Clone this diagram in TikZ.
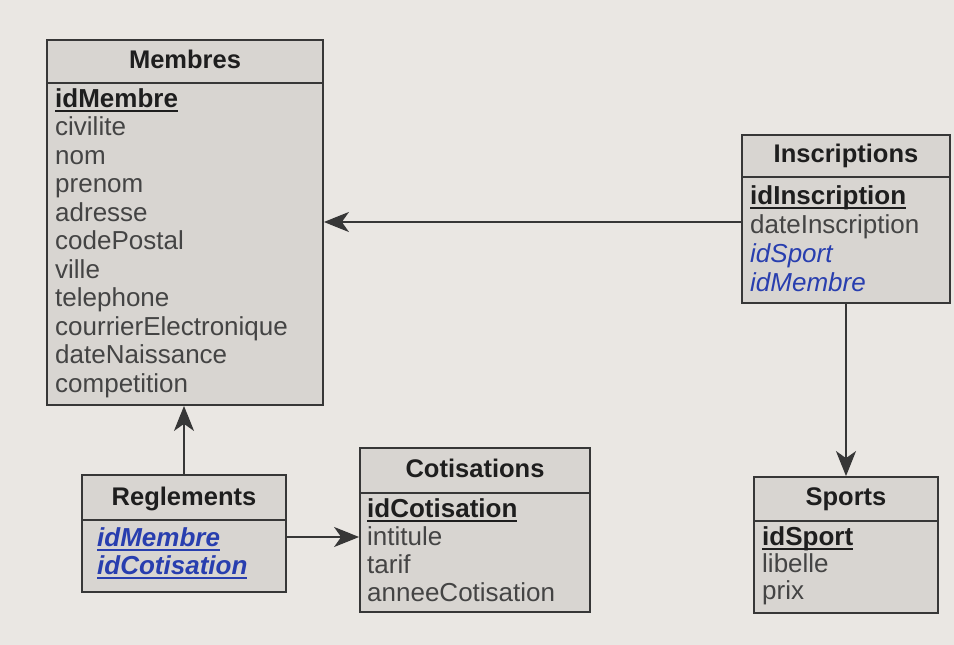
\documentclass[tikz,border=0pt]{standalone}
\usepackage{fontspec}
\setmainfont{Liberation Sans}
\usetikzlibrary{arrows.meta}
\definecolor{bg}{RGB}{234,231,227}
\definecolor{boxfill}{RGB}{216,213,209}
\definecolor{frame}{RGB}{55,55,55}
\definecolor{txt}{RGB}{68,68,68}
\definecolor{ttl}{RGB}{30,30,30}
\definecolor{fk}{RGB}{40,62,175}
\newcommand{\myul}[1]{\setbox0=\hbox{#1}\rlap{\vrule height -3pt depth 5pt width \wd0}\box0}
\begin{document}
\begin{tikzpicture}[x=1pt,y=-1pt,
  entity/.style={rectangle, draw=frame, line width=1.8pt, fill=boxfill, inner sep=0pt},
  sep/.style={draw=frame, line width=1.6pt},
  ttlnode/.style={anchor=base, inner sep=0pt, text=ttl, font=\fontsize{25.5}{28}\selectfont\bfseries},
  row/.style={anchor=base west, inner sep=0pt, text=txt, font=\fontsize{26}{28}\selectfont},
  pk/.style={row, text=ttl, font=\fontsize{26}{28}\selectfont\bfseries},
  fkrow/.style={row, text=fk, font=\fontsize{26}{28}\selectfont\itshape},
  pfk/.style={row, text=fk, font=\fontsize{26}{28}\selectfont\bfseries\itshape},
  arr/.style={draw=frame, line width=1.8pt, -{Stealth[length=25pt,width=20pt,inset=7pt]}}
]
\fill[bg] (0,0) rectangle (954,645);
\useasboundingbox (0,0) rectangle (954,645);

% Membres
\node[entity, minimum width=276pt, minimum height=365pt] (membres) at (185,222.5) {};
\draw[sep] (membres.west |- 0,83) -- (membres.east |- 0,83);
\node[ttlnode] (mt) at (185,68) {Membres};
\node[pk] (m0) at (55,107) {\myul{idMembre}};
\node[row] (m1) at (55,135.5) {civilite};
\node[row] (m2) at (55,164) {nom};
\node[row] (m3) at (55,192.5) {prenom};
\node[row] (m4) at (55,221) {adresse};
\node[row] (m5) at (55,249.5) {codePostal};
\node[row] (m6) at (55,278) {ville};
\node[row] (m7) at (55,306.5) {telephone};
\node[row] (m8) at (55,335) {courrierElectronique};
\node[row] (m9) at (55,363.5) {dateNaissance};
\node[row] (m10) at (55,392) {competition};

% Inscriptions
\node[entity, minimum width=208pt, minimum height=168pt] (insc) at (846,219) {};
\draw[sep] (insc.west |- 0,177) -- (insc.east |- 0,177);
\node[ttlnode] (it) at (846,162) {Inscriptions};
\node[pk] (i0) at (750,204) {\myul{idInscription}};
\node[row] (i1) at (750,233) {dateInscription};
\node[fkrow] (i2) at (750,262) {idSport};
\node[fkrow] (i3) at (750,291) {idMembre};

% Sports
\node[entity, minimum width=184pt, minimum height=136pt] (sports) at (846,545) {};
\draw[sep] (sports.west |- 0,521) -- (sports.east |- 0,521);
\node[ttlnode] (st) at (846,505) {Sports};
\node[pk] (s0) at (762,545) {\myul{idSport}};
\node[row] (s1) at (762,572) {libelle};
\node[row] (s2) at (762,599) {prix};

% Reglements
\node[entity, minimum width=204pt, minimum height=117pt] (regl) at (184,533.5) {};
\draw[sep] (regl.west |- 0,520) -- (regl.east |- 0,520);
\node[ttlnode] (rt) at (184,505) {Reglements};
\node[pfk] (r0) at (97,546) {\myul{idMembre}};
\node[pfk] (r1) at (97,574) {\myul{idCotisation}};

% Cotisations
\node[entity, minimum width=230pt, minimum height=164pt] (cotis) at (475,530) {};
\draw[sep] (cotis.west |- 0,493) -- (cotis.east |- 0,493);
\node[ttlnode] (ct) at (475,477) {Cotisations};
\node[pk] (c0) at (367,517) {\myul{idCotisation}};
\node[row] (c1) at (367,545) {intitule};
\node[row] (c2) at (367,573) {tarif};
\node[row] (c3) at (367,601) {anneeCotisation};

% connectors
\draw[arr] ([yshift=-3pt]insc.west) coordinate (a1) -- (a1 -| membres.east);
\draw[arr] (insc.south) -- (insc.south |- sports.north);
\draw[arr] (regl.north) -- (regl.north |- membres.south);
\draw[arr] ([yshift=-3.5pt]regl.east) coordinate (a2) -- (a2 -| cotis.west);
\end{tikzpicture}
\end{document}
